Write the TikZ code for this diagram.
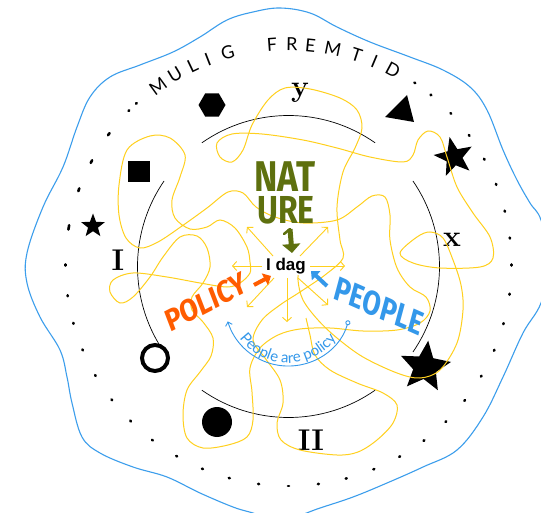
\documentclass[tikz,border=0pt]{standalone}
\usepackage{fontspec}
\usetikzlibrary{arrows.meta,decorations.text,shapes.geometric,calc}
\newfontfamily\hand{Fira Sans}
\newfontfamily\lato{Lato}
\newfontfamily\helv{Liberation Sans}
\definecolor{ylw}{RGB}{255,208,30}
\definecolor{outblue}{RGB}{60,158,236}
\definecolor{pblue}{RGB}{52,152,234}
\definecolor{orng}{RGB}{255,92,0}
\definecolor{olive}{RGB}{94,112,14}
\tikzset{
  hw/.style={font=\hand\bfseries, inner sep=0pt, transform shape},
  lab/.style={font=\bfseries\fontsize{30}{30}\selectfont, inner sep=0pt},
  yarr/.style={draw=ylw, line width=0.9pt, -{Straight Barb[length=4pt,width=9pt]}},
  scrib/.style={draw=ylw, line width=1pt},
  dotst/.style={line width=2.6pt, line cap=round},
  arcst/.style={line width=0.7pt},
  starst/.style={star, star points=5, star point ratio=2.4, fill=black, inner sep=0pt}
}
\begin{document}
\begin{tikzpicture}[x=1pt,y=1pt]
\useasboundingbox (0,0) rectangle (541,-513);
\fill[white] (0,0) rectangle (541,-513);

% outer wavy blue boundary
\draw[outblue, line width=1.1pt] plot[smooth cycle, tension=0.6] coordinates {
 (280,-8)(310,-13)(337,-27)(370,-42)(410,-57)(443,-70)(470,-87)(487,-110)(503,-150)
 (517,-180)(530,-203)(541,-220)(550,-262)(541,-303)(523,-333)(503,-377)(483,-417)
 (457,-450)(423,-467)(387,-483)(353,-497)(320,-508)(280,-521)(253,-513)(233,-507)
 (200,-493)(167,-477)(133,-467)(100,-453)(82,-437)(72,-403)(67,-377)(60,-350)
 (40,-317)(27,-283)(27,-253)(43,-207)(63,-167)(77,-127)(90,-97)(110,-77)(140,-65)
 (173,-52)(200,-37)(227,-20)(253,-12)};

% dotted ring
\foreach \a/\l in {55.5/.5,50.3/.5,43.3/.5,35.9/.5,28.6/.5,21.4/.5,14.1/.5,7/.5,0/.5,
 -7.6/.5,-15.4/.5,-22.7/.5,-30.2/.5,-37.8/.5,-45.1/.5,-52.6/.5,-60.1/.5,-67.5/.5,-75/.5,
 -82.3/.5,-90/.5,-97.7/.5,-105.4/.5,-112.7/.5,-120.1/.5,-127.6/.5,-135.1/.5,-142.4/.5,
 -150/.5,-157.4/.5,-164.7/.5,-172/.5,180/.6,170.2/2.2,160.1/1.5,152.1/1.5,143.7/1.3,
 135.7/.5,133/.5}
 \draw[dotst, shift={(288.5,-265)}] (\a:223 and 221) ++({\a+90}:\l) -- ++({\a-90}:{2*\l});

% circular title
\foreach \c/\a [count=\i] in {M/126,U/120.7,L/115.6,I/111.3,G/105.9,F/94.3,R/89.1,E/84.3,M/78.5,T/72.1,I/67.2,D/61.9}
 \node[font=\lato\fontsize{18}{18}\selectfont, inner sep=0pt, rotate=\a-90] (mf\i) at ($(288.5,-266)+(\a:222)$) {\c};

% black arcs
\coordinate (C) at (288.5,-266.5);
\draw[arcst] (C) ++(55:151) arc[start angle=55, end angle=125, radius=151];
\draw[arcst] (C) ++(145.5:151) arc[start angle=145.5, end angle=211, radius=151];
\draw[arcst] (C) ++(235:151) arc[start angle=235, end angle=305, radius=151];
\draw[arcst] (C) ++(-34.5:151) arc[start angle=-34.5, end angle=34.5, radius=151];

% symbols
\fill (212,-105) +(0:13.5) -- +(60:13.5) -- +(120:13.5) -- +(180:13.5) -- +(240:13.5) -- +(300:13.5) -- cycle;
\fill (128,-161) rectangle (150,-182);
\node[starst, minimum size=25pt] (s1) at (93,-226) {};
\fill (385,-117) -- (407,-95) -- (414,-122) -- cycle;
\node[starst, minimum size=41pt, shape border rotate=12.5] (s2) at (454,-157) {};
\node[starst, minimum size=53pt, star point ratio=2.2, shape border rotate=-7] (s3) at (425,-367) {};
\draw[line width=4pt] (155,-358) circle[radius=13];
\fill (217,-422) circle[radius=15];

% labels
\node[lab] (ly) at (300,-93) {y};
\node[lab] (lx) at (452,-240) {x};
\node[lab] (lI) at (118,-260) {I};
\node[lab] (lII) at (311,-440) {II};

% yellow scribble
\draw[scrib] plot[smooth cycle, tension=0.55] coordinates {
 (250,-262)(247,-247)(235,-228)(220,-220)(207,-227)(190,-229)(175,-218)(172,-200)(180,-177)
 (185,-155)(170,-138)(150,-136)(127,-150)(119,-185)(119,-215)(126,-238)(140,-248)(158,-242)
 (182,-226)(207,-208)(228,-192)(243,-193)(256,-207)(275,-217)(303,-223)(337,-220)(357,-207)
 (372,-196)(385,-197)(390,-215)(390,-240)(397,-268)(410,-287)(426,-297)(430,-311)(420,-323)
 (397,-330)(363,-331)(330,-328)(300,-329)(278,-335)(260,-348)(250,-368)(252,-392)(253,-420)
 (247,-437)(228,-445)(203,-448)(187,-438)(183,-415)(187,-390)(200,-372)(211,-356)(213,-338)
 (203,-322)(192,-310)(192,-297)(203,-283)(210,-267)(207,-248)(197,-236)(180,-237)(163,-257)
 (150,-277)(133,-297)(120,-303)(110,-292)(113,-280)(133,-273)(167,-277)(200,-283)(227,-287)
 (240,-283)(250,-273)};
\draw[scrib] plot[smooth, tension=0.55] coordinates {
 (300,-262)(298,-280)(303,-300)(318,-320)(337,-338)(363,-357)(397,-373)(420,-378)(440,-370)
 (457,-343)(463,-310)(461,-285)(453,-260)(443,-238)(430,-232)(417,-237)(400,-253)(413,-263)
 (440,-268)(480,-267)(493,-258)(490,-237)(473,-213)(457,-187)(447,-157)(440,-137)(428,-131)
 (418,-140)(413,-155)(403,-162)(370,-157)(337,-148)(303,-140)(262,-134)(232,-134)(217,-143)
 (220,-157)(232,-162)(243,-150)(252,-125)(268,-100)(285,-88)(310,-89)(340,-98)(357,-110)
 (362,-128)(355,-148)(343,-172)(337,-207)(340,-240)(343,-258)(325,-275)(300,-292)(280,-305)
 (262,-320)(253,-340)(265,-358)(280,-380)(283,-403)(277,-423)(281,-440)(300,-450)(337,-455)
 (358,-452)(377,-440)(393,-423)(397,-405)(383,-393)(357,-383)(330,-370)(315,-355)(310,-335)
 (306,-318)};

% centre
\node[font=\helv\bfseries\fontsize{17}{17}\selectfont, fill=white, inner sep=1pt] (idag) at (286,-266) {I dag};
\foreach \tx/\ty/\hx/\hy [count=\i] in {262/266/232/266, 310/266/345/266, 273/256/247/227,
  300/256/328/227, 274/278/247/307, 287/278/287/322, 298/278/328/305}{
  \coordinate (yt\i) at (\tx,-\ty);
  \coordinate (yh\i) at (\hx,-\hy);
  \draw[yarr] (yt\i) -- (yh\i);
}

% NATURE
\node[hw, olive, font=\hand\bfseries\fontsize{43}{43}\selectfont, xscale=.82] (nat1) at (285,-177) {NAT};
\node[hw, olive, font=\hand\bfseries\fontsize{39}{39}\selectfont, xscale=.82] (nat2) at (286,-210) {URE};
\coordinate (ga) at (290,-229);
\coordinate (gb) at (292,-253);
\draw[olive, line width=2.5pt, line cap=round] (284,-234) -- (ga);
\draw[olive, line width=5pt, -{Triangle[length=9pt,width=18pt]}] (ga) -- (gb);

% POLICY
\node[hw, orng, font=\hand\bfseries\fontsize{31}{31}\selectfont, xscale=.86, rotate=24] (pol) at (206,-302) {POLICY};
\coordinate (oa) at (254,-285);
\coordinate (ob) at (271,-276);
\draw[orng, line width=4pt, -{Triangle[length=7pt,width=13pt]}] (oa) -- (ob);

% PEOPLE
\node[hw, pblue, font=\hand\bfseries\fontsize{34}{34}\selectfont, xscale=.78, rotate=-19] (peo) at (379,-306) {PEOPLE};
\coordinate (pa) at (327,-286);
\coordinate (pb) at (311,-271);
\draw[pblue, line width=4pt, -{Triangle[length=7pt,width=12pt]}] (pa) -- (pb);

% People are policy
\coordinate (C2) at (288,-303);
\draw[pblue, line width=0.9pt, {Circle[open,length=5pt]}-{Straight Barb[length=3.5pt,width=7pt]}]
  (C2) ++(-16:63) arc[start angle=-16, end angle=-163, radius=63];
\path[decorate, decoration={text along path, text={|\lato\fontsize{15}{15}\selectfont\color{pblue}|People are policy}, text align=center}]
  (C2) ++(196:60) arc[start angle=196, end angle=344, radius=60];
\end{tikzpicture}
\end{document}
